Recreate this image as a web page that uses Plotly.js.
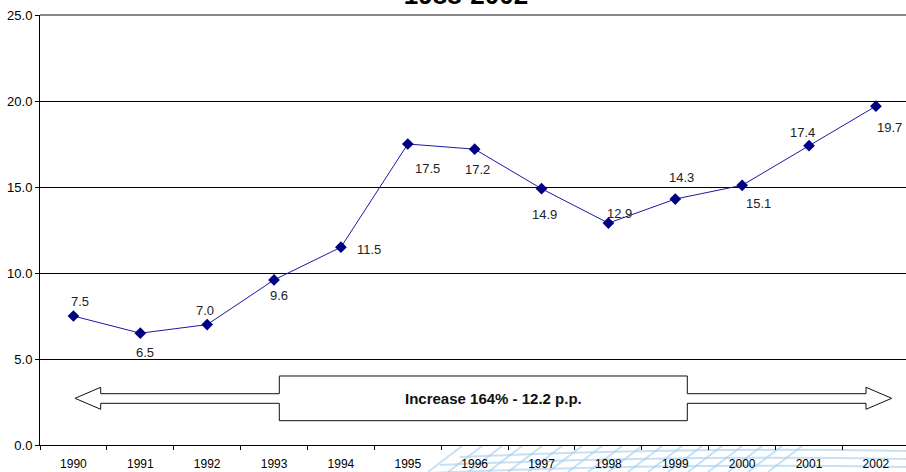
<!DOCTYPE html>
<html>
<head>
<meta charset="utf-8">
<script src="https://cdn.plot.ly/plotly-3.0.1.min.js"></script>
<style>
  html, body { margin: 0; padding: 0; background: #fff; }
  #chart { width: 906px; height: 472px; }
</style>
</head>
<body>
<div id="chart"></div>
<script>
// Yearly values, 1990-2002
const years = ['1990','1991','1992','1993','1994','1995','1996','1997','1998','1999','2000','2001','2002'];
const values = [7.5, 6.5, 7.0, 9.6, 11.5, 17.5, 17.2, 14.9, 12.9, 14.3, 15.1, 17.4, 19.7];
const chartTitle = '1988-2002';
const bannerText = 'Increase 164% - 12.2 p.p.';

// Pixel nudges for each value label (dx right, dy up)
const labelShift = [
  [7, 15], [5, -19], [-2, 14], [5, -16], [28, -2], [20, -24], [3, -20],
  [3, -26], [11, 10], [6, 22], [16, -18], [-7, 13], [14, -21]
];

const W = 906, H = 472;
const M = { l: 40, r: 0, t: 15, b: 27 };
const PW = W - M.l - M.r, PH = H - M.t - M.b;
// pixel -> paper helpers for decorations
const px = x => (x - M.l) / PW;
const py = y => (H - M.b - y) / PH;

const font = 'Arial, "Liberation Sans", sans-serif';

const trace = {
  type: 'scatter',
  mode: 'lines+markers',
  x: years,
  y: values,
  line: { color: '#1a1aa6', width: 1 },
  marker: { symbol: 'diamond', size: 9, color: '#000080' },
  hoverinfo: 'x+y'
};

// on a category axis, annotation x is the category's serial index
const annotations = values.map((v, i) => ({
  x: i, y: v, xref: 'x', yref: 'y',
  text: v.toFixed(1), showarrow: false,
  xanchor: 'center', yanchor: 'middle',
  xshift: labelShift[i][0], yshift: labelShift[i][1],
  font: { family: font, size: 13, color: '#222' }
}));

annotations.push({
  xref: 'paper', yref: 'paper', x: px(493), y: py(398),
  text: '<b>' + bannerText + '</b>', showarrow: false,
  xanchor: 'center', yanchor: 'middle',
  font: { family: font, size: 15, color: '#111' }
});

// Double-headed block arrow with a central box
const arrowPts = [
  [75, 398.3], [100.7, 387.3], [100.7, 393.7], [279.3, 393.7], [279.3, 376],
  [687.3, 376], [687.3, 393.7], [866, 393.7], [866, 387.3], [891.7, 398.3],
  [866, 409.3], [866, 403.3], [687.3, 403.3], [687.3, 420.7], [279.3, 420.7],
  [279.3, 403.3], [100.7, 403.3], [100.7, 409.3]
];
const arrowPath = 'M' + arrowPts.map(p => px(p[0]).toFixed(5) + ',' + py(p[1]).toFixed(5)).join(' L') + ' Z';

const shapes = [
  {
    type: 'path', xref: 'paper', yref: 'paper', path: arrowPath,
    fillcolor: '#fff', line: { color: '#111', width: 1 }, layer: 'above'
  },
  // top frame line
  {
    type: 'line', xref: 'paper', yref: 'paper', x0: 0, x1: 1, y0: 1, y1: 1,
    line: { color: '#888', width: 2 }, layer: 'above'
  }
];

// Faint background grid ornament under the axis labels
const orn = 'rgba(160,205,238,0.6)';
for (let x0 = 428; x0 <= 780; x0 += 20) {
  shapes.push({
    type: 'line', xref: 'paper', yref: 'paper',
    x0: px(x0), y0: py(472), x1: px(x0 + 34), y1: py(446),
    line: { color: orn, width: 2 }, layer: 'below'
  });
}
[[451, 460, 906], [459, 440, 906], [467, 428, 906]].forEach(a => {
  const [y, xs, xe] = a;
  shapes.push({
    type: 'path', xref: 'paper', yref: 'paper',
    path: 'M' + px(xs) + ',' + py(y + 6) + ' Q' + px((xs + xe) / 2) + ',' + py(y - 4) + ' ' + px(xe) + ',' + py(y),
    line: { color: orn, width: 2 }, layer: 'below'
  });
});

const layout = {
  width: W, height: H,
  margin: M,
  paper_bgcolor: '#fff', plot_bgcolor: 'rgba(0,0,0,0)',
  showlegend: false,
  title: {
    text: chartTitle,
    font: { family: font, size: 26, color: '#000', weight: 'bold' },
    xref: 'paper', x: (466 - M.l) / PW, xanchor: 'center',
    yref: 'container', y: 1 - 4 / H, yanchor: 'bottom'
  },
  xaxis: {
    type: 'category',
    range: [-0.5, 12.45],
    tickson: 'boundaries',
    ticks: 'outside', ticklen: 4, tickcolor: '#000',
    ticklabelstandoff: 8,
    showline: true, linecolor: '#000', linewidth: 1,
    showgrid: false, zeroline: false,
    tickfont: { family: font, size: 12, color: '#000' },
    fixedrange: true
  },
  yaxis: {
    range: [0, 25], dtick: 5, tickformat: '.1f',
    ticks: 'outside', ticklen: 4, tickcolor: '#000',
    showline: true, linecolor: '#000', linewidth: 1,
    showgrid: true, gridcolor: '#000', gridwidth: 1,
    zeroline: false,
    tickfont: { family: font, size: 13, color: '#000' },
    fixedrange: true
  },
  annotations: annotations,
  shapes: shapes
};

Plotly.newPlot('chart', [trace], layout, { displayModeBar: false, staticPlot: true });
</script>
</body>
</html>
